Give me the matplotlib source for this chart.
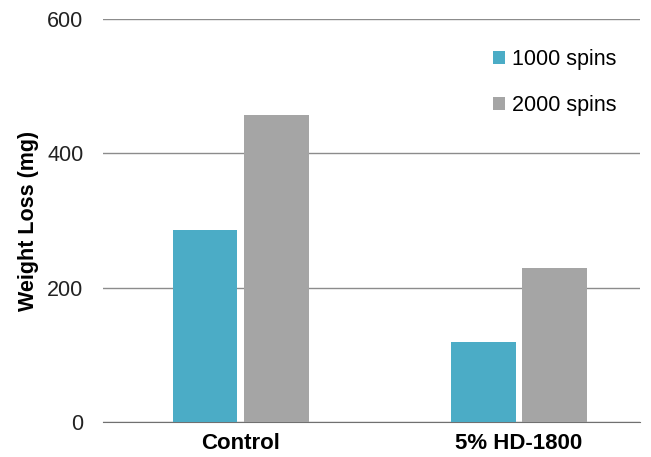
import matplotlib.pyplot as plt
import numpy as np

plt.rcParams['font.family'] = ['Liberation Sans', 'DejaVu Sans']

categories = ['Control', '5% HD-1800']
spins_1000 = [286, 119]
spins_2000 = [457, 229]

fig = plt.figure(figsize=(6.51, 4.57), dpi=100)
ax = fig.add_axes([0.158, 0.0766, 0.825, 0.8814])

x = np.arange(len(categories))
w = 0.232
off = 0.128
ax.bar(x - off, spins_1000, w, color='#4bacc6', label='1000 spins', zorder=3)
ax.bar(x + off, spins_2000, w, color='#a5a5a5', label='2000 spins', zorder=3)

ax.set_ylim(0, 600)
ax.set_xlim(-0.496, 1.435)
ax.set_yticks([0, 200, 400, 600])
ax.yaxis.grid(True, color='#8c8c8c', linewidth=1, zorder=0)
ax.tick_params(axis='y', length=0, pad=14, labelsize=15.5, colors='#222222')
ax.set_xticks(x)
ax.set_xticklabels(categories, fontsize=16, fontweight='bold')
ax.tick_params(axis='x', length=0, pad=8)
for s in ['top', 'right', 'left']:
    ax.spines[s].set_visible(False)
ax.spines['bottom'].set_color('#707070')
ax.set_ylabel('Weight Loss (mg)', fontsize=15.5, fontweight='bold', labelpad=6)

ax.legend(loc='upper left', bbox_to_anchor=(0.69, 0.975), frameon=False,
          fontsize=15.5, labelspacing=1.2, handlelength=0.55, handleheight=0.55,
          handletextpad=0.35)

fig.savefig('out.png', dpi=100)
